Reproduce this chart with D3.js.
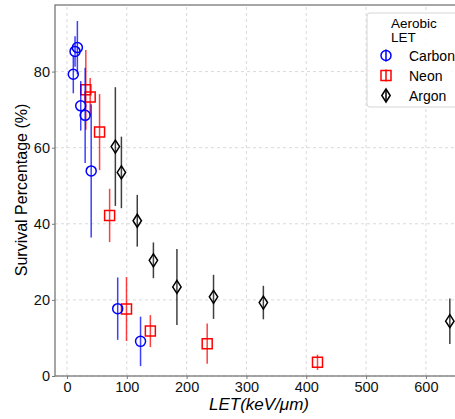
<!doctype html>
<html>
<head>
<meta charset="utf-8">
<title>Survival vs LET</title>
<script src="https://cdn.jsdelivr.net/npm/d3@7"></script>
<style>
  body { margin: 0; background: #fff; }
  svg text { font-family: "Liberation Sans", Arial, sans-serif; }
</style>
</head>
<body>
<svg id="chart" width="455" height="419"></svg>
<script>
// data
var carbonLET = [17.4, 13.5, 10.6, 23, 30.4, 40.5, 84.8, 123];
var carbonSurv = [86.3, 85.3, 79.3, 71, 68.5, 53.9, 17.7, 9.1];
var carbonErr = [7, 4, 5, 6.5, 12.5, 17.5, 8.2, 6.5];

var neonLET = [31.5, 38.8, 54.5, 71.3, 99.5, 139.4, 234.4, 418.8];
var neonSurv = [75.2, 73.3, 64.1, 42.2, 17.6, 11.8, 8.5, 3.6];
var neonErr = [10.5, 5, 10, 7, 8.4, 4.2, 5.3, 2];

var argonLET = [80.9, 91, 117.5, 144.5, 183.8, 245, 328.3, 640];
var argonSurv = [60.3, 53.5, 40.8, 30.4, 23.4, 20.8, 19.3, 14.4];
var argonErr = [15.6, 9.4, 6.8, 4.7, 10, 5.8, 4.4, 6];

var xTicks = [0, 100, 200, 300, 400, 500, 600];
var yTicks = [0, 20, 40, 60, 80];

var margin = { left: 55, top: 5, right: -5, bottom: 43 };
var width = 455, height = 419;

var svg = d3.select("#chart");

var x = d3.scaleLinear().domain([-20, 657]).range([margin.left, width - margin.right]);
var y = d3.scaleLinear().domain([0, 97.5]).range([height - margin.bottom, margin.top]);

// grid lines
svg.append("g").selectAll("line").data(xTicks).enter().append("line")
    .attr("x1", function(d) { return x(d); })
    .attr("x2", function(d) { return x(d); })
    .attr("y1", y(0)).attr("y2", margin.top)
    .attr("stroke", "#cfcfcf").attr("stroke-dasharray", "3,3").attr("stroke-width", 0.8);
svg.append("g").selectAll("line").data(yTicks).enter().append("line")
    .attr("x1", margin.left).attr("x2", width)
    .attr("y1", function(d) { return y(d); })
    .attr("y2", function(d) { return y(d); })
    .attr("stroke", "#cfcfcf").attr("stroke-dasharray", "3,3").attr("stroke-width", 0.8);

// axes
var xAxis = d3.axisBottom(x).tickValues(xTicks).tickSize(3).tickPadding(3);
var gx = svg.append("g").attr("transform", "translate(0," + y(0) + ")").call(xAxis);
var yAxis = d3.axisLeft(y).tickValues(yTicks).tickSize(3).tickPadding(2);
var gy = svg.append("g").attr("transform", "translate(" + margin.left + ",0)").call(yAxis);
[gx, gy].forEach(function(g) {
    g.select(".domain").remove();
    g.selectAll("line").attr("stroke", "#777");
    g.selectAll("text").attr("font-size", 14.5).attr("fill", "#111")
        .style("font-family", "'Liberation Sans', Arial, sans-serif");
});

// frame
svg.append("rect")
    .attr("x", margin.left).attr("y", margin.top)
    .attr("width", x(657) - margin.left + 2).attr("height", y(0) - margin.top)
    .attr("fill", "none").attr("stroke", "#777").attr("stroke-width", 1.3);

function series(xs, ys, es, color, shape) {
    var pts = xs.map(function(v, i) { return { x: v, y: ys[i], e: es[i] }; });
    var g = svg.append("g");
    g.selectAll("line.err").data(pts).enter().append("line")
        .attr("class", "err")
        .attr("x1", function(d) { return x(d.x); })
        .attr("x2", function(d) { return x(d.x); })
        .attr("y1", function(d) { return y(d.y - d.e); })
        .attr("y2", function(d) { return y(d.y + d.e); })
        .attr("stroke", color).attr("stroke-width", 1.5).attr("opacity", 0.75);
    g.selectAll("path.mk").data(pts).enter().append("path")
        .attr("class", "mk")
        .attr("transform", function(d) { return "translate(" + x(d.x) + "," + y(d.y) + ")"; })
        .attr("d", shape)
        .attr("fill", "none").attr("stroke", color).attr("stroke-width", 1.5);
}

var circlePath = "M5,0A5,5 0 1,1 -5,0A5,5 0 1,1 5,0Z";
var squarePath = "M-5,-5H5V5H-5Z";
var diamondPath = "M0,-6.5L4.2,0L0,6.5L-4.2,0Z";

series(argonLET, argonSurv, argonErr, "#000", diamondPath);
series(neonLET, neonSurv, neonErr, "#f00", squarePath);
series(carbonLET, carbonSurv, carbonErr, "#00f", circlePath);

// legend
var leg = svg.append("g");
leg.append("rect").attr("x", 367).attr("y", 13).attr("width", 100).attr("height", 94)
    .attr("rx", 3).attr("fill", "#fff").attr("fill-opacity", 0.85)
    .attr("stroke", "#d5d5d5").attr("stroke-width", 1);
leg.append("text").attr("x", 391).attr("y", 28).attr("font-size", 13.5).text("Aerobic");
leg.append("text").attr("x", 391).attr("y", 42).attr("font-size", 13.5).text("LET");
var legNames = ["Carbon", "Neon", "Argon"];
var legColors = ["#00f", "#f00", "#000"];
var legShapes = [circlePath, squarePath, diamondPath];
legNames.forEach(function(n, i) {
    var cy = 55.5 + i * 20;
    leg.append("line").attr("x1", 386).attr("x2", 386).attr("y1", cy - 6).attr("y2", cy + 6)
        .attr("stroke", legColors[i]).attr("stroke-width", 1.5);
    leg.append("path").attr("d", legShapes[i]).attr("transform", "translate(386," + cy + ")")
        .attr("fill", "none").attr("stroke", legColors[i]).attr("stroke-width", 1.5);
    leg.append("text").attr("x", 409).attr("y", cy + 5).attr("font-size", 14).text(n);
});

// axis labels
svg.append("text")
    .attr("transform", "translate(27,190) rotate(-90)")
    .attr("text-anchor", "middle").attr("font-size", 16)
    .text("Survival Percentage (%)");
svg.append("text")
    .attr("x", 259).attr("y", 410).attr("text-anchor", "middle")
    .attr("font-size", 17).attr("font-style", "italic")
    .text("LET(keV/\u03bcm)");
</script>
</body>
</html>
